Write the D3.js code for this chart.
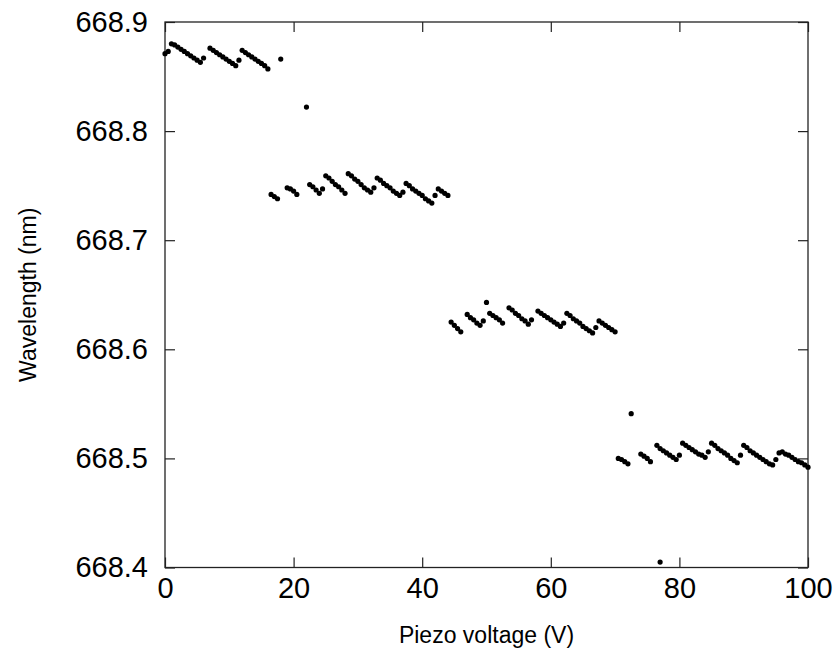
<!DOCTYPE html>
<html>
<head>
<meta charset="utf-8">
<script src="https://cdn.jsdelivr.net/npm/d3@7"></script>
<style>
  html, body { margin: 0; padding: 0; background: #fff; }
  svg { display: block; }
  text { font-family: "Liberation Sans", Arial, Helvetica, sans-serif; fill: #000; }
</style>
</head>
<body>
<div id="chart"></div>
<script>
const voltage = [
  0.0, 0.5, 1.0, 1.5, 2.0, 2.5, 3.0, 3.5, 4.0, 4.5, 5.0, 5.5, 6.0,
  7.0, 7.5, 8.0, 8.5, 9.0, 9.5, 10.0, 10.5, 11.0, 11.5,
  12.0, 12.5, 13.0, 13.5, 14.0, 14.5, 15.0, 15.5, 16.0, 18.0, 22.0,
  16.5, 17.0, 17.5,
  19.0, 19.5, 20.0, 20.5,
  22.5, 23.0, 23.5, 24.0, 24.5,
  25.0, 25.5, 26.0, 26.5, 27.0, 27.5, 28.0,
  28.5, 29.0, 29.5, 30.0, 30.5, 31.0, 31.5, 32.0, 32.5,
  33.0, 33.5, 34.0, 34.5, 35.0, 35.5, 36.0, 36.5, 37.0,
  37.5, 38.0, 38.5, 39.0, 39.5, 40.0, 40.5, 41.0, 41.5, 42.0,
  42.5, 43.0, 43.5, 44.0,
  44.5, 45.0, 45.5, 46.0,
  47.0, 47.5, 48.0, 48.5, 49.0, 49.5, 50.0,
  50.5, 51.0, 51.5, 52.0, 52.5,
  53.5, 54.0, 54.5, 55.0, 55.5, 56.0, 56.5, 57.0,
  58.0, 58.5, 59.0, 59.5, 60.0, 60.5, 61.0, 61.5, 62.0,
  62.5, 63.0, 63.5, 64.0, 64.5, 65.0, 65.5, 66.0, 66.5, 67.0,
  67.5, 68.0, 68.5, 69.0, 69.5, 70.0,
  70.5, 71.0, 71.5, 72.0, 72.5,
  74.0, 74.5, 75.0, 75.5, 76.5, 77.0,
  77.0, 77.5, 78.0, 78.5, 79.0, 79.5, 80.0,
  80.5, 81.0, 81.5, 82.0, 82.5, 83.0, 83.5, 84.0, 84.5,
  85.0, 85.5, 86.0, 86.5, 87.0, 87.5, 88.0, 88.5, 89.0, 89.5,
  90.0, 90.5, 91.0, 91.5, 92.0, 92.5, 93.0, 93.5, 94.0, 94.5, 95.0,
  95.5, 96.0, 96.5, 97.0, 97.5, 98.0, 98.5, 99.0, 99.5, 100.0
];
const wavelength = [
  668.871, 668.873, 668.880, 668.879, 668.877, 668.875, 668.873, 668.871, 668.869, 668.867, 668.865, 668.863, 668.867,
  668.876, 668.874, 668.872, 668.870, 668.868, 668.866, 668.864, 668.862, 668.860, 668.865,
  668.874, 668.872, 668.870, 668.868, 668.866, 668.864, 668.862, 668.860, 668.857, 668.866, 668.822,
  668.742, 668.740, 668.738,
  668.748, 668.747, 668.745, 668.742,
  668.751, 668.749, 668.746, 668.743, 668.747,
  668.759, 668.757, 668.754, 668.751, 668.749, 668.746, 668.743,
  668.761, 668.759, 668.756, 668.754, 668.751, 668.748, 668.746, 668.744, 668.748,
  668.757, 668.755, 668.752, 668.750, 668.748, 668.745, 668.743, 668.741, 668.744,
  668.752, 668.750, 668.747, 668.745, 668.743, 668.741, 668.738, 668.736, 668.734, 668.741,
  668.747, 668.745, 668.743, 668.741,
  668.625, 668.622, 668.619, 668.616,
  668.632, 668.629, 668.627, 668.624, 668.622, 668.626, 668.643,
  668.633, 668.631, 668.629, 668.627, 668.624,
  668.638, 668.636, 668.633, 668.631, 668.628, 668.626, 668.623, 668.627,
  668.635, 668.633, 668.631, 668.629, 668.627, 668.625, 668.623, 668.621, 668.624,
  668.633, 668.631, 668.628, 668.626, 668.624, 668.621, 668.619, 668.617, 668.615, 668.620,
  668.626, 668.624, 668.622, 668.620, 668.618, 668.616,
  668.500, 668.499, 668.497, 668.495, 668.541,
  668.504, 668.502, 668.500, 668.497, 668.512, 668.405,
  668.509, 668.507, 668.505, 668.503, 668.501, 668.499, 668.503,
  668.514, 668.512, 668.510, 668.508, 668.506, 668.504, 668.503, 668.501, 668.506,
  668.514, 668.512, 668.509, 668.507, 668.505, 668.503, 668.500, 668.498, 668.496, 668.503,
  668.512, 668.510, 668.507, 668.505, 668.503, 668.501, 668.499, 668.497, 668.495, 668.494, 668.499,
  668.505, 668.506, 668.504, 668.503, 668.501, 668.499, 668.497, 668.496, 668.494, 668.492
];
const xTicks = [0, 20, 40, 60, 80, 100];
const yTicks = [668.4, 668.5, 668.6, 668.7, 668.8, 668.9];
const xLabel = "Piezo voltage (V)";
const yLabel = "Wavelength (nm)";

const W = 838, H = 669;
const margin = { left: 165, right: 30, top: 22, bottom: 101.5 };
const iw = W - margin.left - margin.right;
const ih = H - margin.top - margin.bottom;

const svg = d3.select("#chart").append("svg").attr("width", W).attr("height", H);
const g = svg.append("g").attr("transform", `translate(${margin.left},${margin.top})`);

const x = d3.scaleLinear().domain([0, 100]).range([0, iw]);
const y = d3.scaleLinear().domain([668.4, 668.9]).range([ih, 0]);

const tickLen = 10;
const fmtY = d3.format(".1f");

const xAxis = g.append("g").attr("transform", `translate(0,${ih})`)
  .call(d3.axisBottom(x).tickValues(xTicks).tickSize(-tickLen).tickPadding(tickLen + 0).tickFormat(d3.format("d")));
const xAxisTop = g.append("g")
  .call(d3.axisTop(x).tickValues(xTicks).tickSize(-tickLen).tickFormat(""));
const yAxis = g.append("g")
  .call(d3.axisLeft(y).tickValues(yTicks).tickSize(-tickLen).tickPadding(tickLen + 7).tickFormat(fmtY));
const yAxisRight = g.append("g").attr("transform", `translate(${iw},0)`)
  .call(d3.axisRight(y).tickValues(yTicks).tickSize(-tickLen).tickFormat(""));

[xAxis, xAxisTop, yAxis, yAxisRight].forEach(a => {
  a.select(".domain").remove();
  a.selectAll(".tick line").attr("stroke", "#222").attr("stroke-width", 1.2);
  a.selectAll(".tick text").style("font-size", "29px").attr("fill", "#000");
});
xAxis.selectAll(".tick text").attr("dy", "0.71em");

g.append("rect").attr("x", 0).attr("y", 0).attr("width", iw).attr("height", ih)
  .attr("fill", "none").attr("stroke", "#222").attr("stroke-width", 1.3);

g.append("g").selectAll("circle")
  .data(voltage.map((v, i) => ({ v, w: wavelength[i] })))
  .join("circle")
  .attr("cx", d => x(d.v))
  .attr("cy", d => y(d.w))
  .attr("r", 2.6)
  .attr("fill", "#000");

svg.append("text")
  .attr("x", margin.left + iw / 2)
  .attr("y", 643)
  .attr("text-anchor", "middle")
  .style("font-size", "23px")
  .text(xLabel);

svg.append("text")
  .attr("transform", `translate(36,${margin.top + ih / 2}) rotate(-90)`)
  .attr("text-anchor", "middle")
  .style("font-size", "23px")
  .text(yLabel);
</script>
</body>
</html>
